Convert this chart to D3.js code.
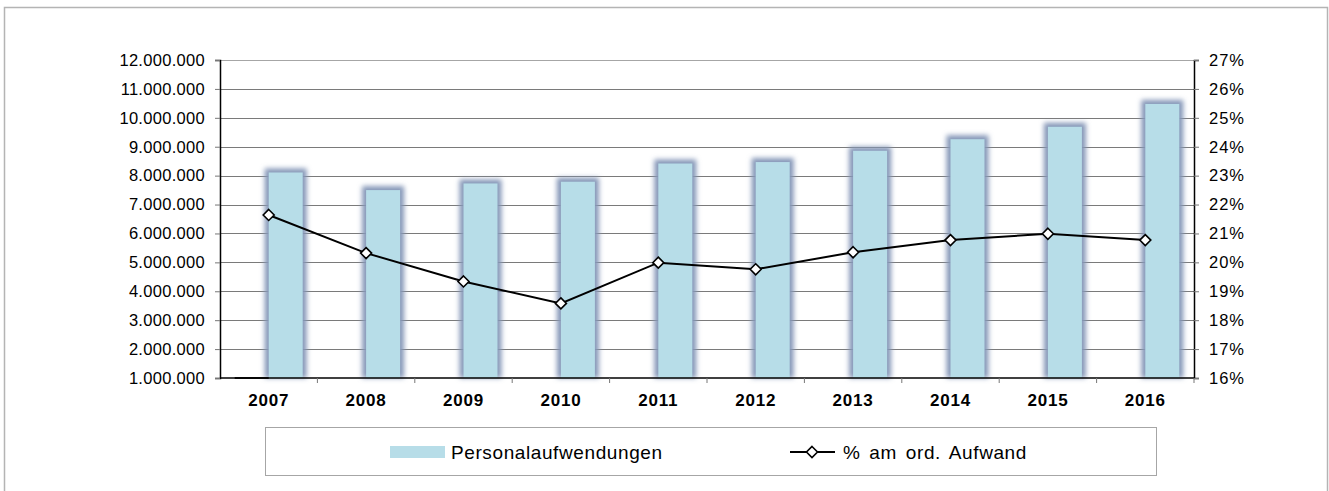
<!DOCTYPE html>
<html>
<head>
<meta charset="utf-8">
<script src="https://cdn.jsdelivr.net/npm/d3@7"></script>
<style>
    body { margin: 0; background: #fff; }
    svg { display: block; font-family: "Liberation Sans", Arial, sans-serif; }
</style>
</head>
<body>
<svg id="chart" width="1329" height="491"></svg>
<script>
// Data
const years = ["2007", "2008", "2009", "2010", "2011", "2012", "2013", "2014", "2015", "2016"];
const personalaufwendungen = [8110000, 7500000, 7730000, 7790000, 8420000, 8470000, 8860000, 9260000, 9690000, 10480000];
const anteilAufwand = [21.64, 20.32, 19.34, 18.58, 19.99, 19.76, 20.35, 20.77, 20.99, 20.77];
// first cluster slot, only 2007 shows up as a flat bar on the baseline
const hiddenSeries = [0, null, null, null, null, null, null, null, null, null];
const leftTicks = [1000000, 2000000, 3000000, 4000000, 5000000, 6000000, 7000000, 8000000, 9000000, 10000000, 11000000, 12000000];
const rightTicks = [16, 17, 18, 19, 20, 21, 22, 23, 24, 25, 26, 27];
const seriesNames = ["Personalaufwendungen", "% am ord. Aufwand"];

function renderChart(svg) {
    svg.selectAll("*").remove();

    const plot = { left: 220, right: 1194, top: 60, bottom: 378 };
    const barColor = "#b7dde8";

    // Outer chart frame
    svg.append("rect")
        .attr("x", 4.5)
        .attr("y", 7.5)
        .attr("width", 1323)
        .attr("height", 500)
        .attr("fill", "none")
        .attr("stroke", "#b4b4b4")
        .attr("stroke-width", 1.5);

    // Glow filter for bars
    const defs = svg.append("defs");
    defs.append("filter")
        .attr("id", "glow")
        .attr("x", "-50%").attr("y", "-10%")
        .attr("width", "200%").attr("height", "120%")
        .append("feGaussianBlur")
        .attr("stdDeviation", 2.4);

    // Scales
    const x = d3.scaleBand()
        .domain(years)
        .range([plot.left, plot.right]);

    const xSub = d3.scaleBand()
        .domain(["hidden", "pers"])
        .range([-34, 34]);

    const yLeft = d3.scaleLinear()
        .domain([1000000, 12000000])
        .range([plot.bottom, plot.top]);

    const yRight = d3.scaleLinear()
        .domain([16, 27])
        .range([plot.bottom, plot.top]);

    const center = d => x(d) + x.bandwidth() / 2;

    // Gridlines
    svg.append("g")
        .selectAll("line")
        .data(leftTicks.slice(1))
        .enter()
        .append("line")
        .attr("x1", plot.left)
        .attr("x2", plot.right)
        .attr("y1", d => Math.round(yLeft(d)) + 0.5)
        .attr("y2", d => Math.round(yLeft(d)) + 0.5)
        .attr("stroke", d => d === 12000000 ? "#a6a6a6" : "#7a7a7a")
        .attr("stroke-width", 1);

    // Bars: blurred halo first, then the fill
    const bars = svg.append("g")
        .selectAll("g")
        .data(years.map((yr, i) => ({ year: yr, value: personalaufwendungen[i] })))
        .enter()
        .append("g");

    bars.append("rect")
        .attr("x", d => center(d.year) + xSub("pers") - 4)
        .attr("y", d => yLeft(d.value) - 4)
        .attr("width", xSub.bandwidth() + 8)
        .attr("height", d => plot.bottom - yLeft(d.value) + 4)
        .attr("fill", "#8597b8")
        .attr("filter", "url(#glow)");

    bars.append("rect")
        .attr("x", d => center(d.year) + xSub("pers"))
        .attr("y", d => yLeft(d.value))
        .attr("width", xSub.bandwidth())
        .attr("height", d => plot.bottom - yLeft(d.value))
        .attr("fill", barColor);

    // Hidden series sits flat on the baseline
    svg.append("g")
        .selectAll("rect")
        .data(years.map((yr, i) => ({ year: yr, value: hiddenSeries[i] })).filter(d => d.value !== null))
        .enter()
        .append("rect")
        .attr("x", d => center(d.year) + xSub("hidden"))
        .attr("y", plot.bottom - 1)
        .attr("width", xSub.bandwidth())
        .attr("height", 2)
        .attr("fill", "#1a1a1a");

    // Left axis
    const leftAxis = svg.append("g")
        .attr("transform", `translate(${plot.left},0)`)
        .call(d3.axisLeft(yLeft)
            .tickValues(leftTicks)
            .tickSize(5)
            .tickPadding(10)
            .tickFormat(d => d3.format(",.0f")(d).replace(/,/g, ".")));
    leftAxis.select(".domain").attr("stroke", "#000").attr("stroke-width", 1.5);
    leftAxis.selectAll(".tick line").attr("stroke", "#777");
    leftAxis.selectAll("text")
        .attr("fill", "#000")
        .style("font-size", "16.5px")
        .style("letter-spacing", "0.3px");

    // Right axis
    const rightAxis = svg.append("g")
        .attr("transform", `translate(${plot.right},0)`)
        .call(d3.axisRight(yRight)
            .tickValues(rightTicks)
            .tickSize(5)
            .tickPadding(10)
            .tickFormat(d => d + "%"));
    rightAxis.select(".domain").attr("stroke", "#000").attr("stroke-width", 1.5);
    rightAxis.selectAll(".tick line").attr("stroke", "#777");
    rightAxis.selectAll("text")
        .attr("fill", "#000")
        .style("font-size", "16.5px")
        .style("letter-spacing", "1px");

    // Bottom axis: boundary ticks
    svg.append("line")
        .attr("x1", plot.left)
        .attr("x2", plot.right)
        .attr("y1", plot.bottom)
        .attr("y2", plot.bottom)
        .attr("stroke", "#000")
        .attr("stroke-width", 1.5);

    svg.append("g")
        .selectAll("line")
        .data(years.slice(1).concat(["end"]))
        .enter()
        .append("line")
        .attr("x1", d => d === "end" ? plot.right : x(d))
        .attr("x2", d => d === "end" ? plot.right : x(d))
        .attr("y1", plot.bottom)
        .attr("y2", plot.bottom + 5)
        .attr("stroke", "#777");

    svg.append("g")
        .selectAll("text")
        .data(years)
        .enter()
        .append("text")
        .attr("x", d => center(d))
        .attr("y", 406)
        .attr("text-anchor", "middle")
        .style("font-size", "17px")
        .style("font-weight", "bold")
        .style("letter-spacing", "0.8px")
        .text(d => d);

    // Line on the right axis
    const lineData = years.map((yr, i) => ({ year: yr, value: anteilAufwand[i] }));
    const line = d3.line()
        .x(d => center(d.year))
        .y(d => yRight(d.value));

    svg.append("path")
        .datum(lineData)
        .attr("fill", "none")
        .attr("stroke", "#000")
        .attr("stroke-width", 2)
        .attr("d", line);

    const diamond = "M0,-5.5L5.5,0L0,5.5L-5.5,0Z";
    svg.append("g")
        .selectAll("path")
        .data(lineData)
        .enter()
        .append("path")
        .attr("transform", d => `translate(${center(d.year)},${yRight(d.value)})`)
        .attr("d", diamond)
        .attr("fill", "#fff")
        .attr("stroke", "#000")
        .attr("stroke-width", 1.6);

    // Legend
    const legend = svg.append("g");
    legend.append("rect")
        .attr("x", 265.5)
        .attr("y", 427.5)
        .attr("width", 891)
        .attr("height", 48)
        .attr("fill", "#fff")
        .attr("stroke", "#a6a6a6");

    legend.append("rect")
        .attr("x", 390)
        .attr("y", 446)
        .attr("width", 55)
        .attr("height", 12)
        .attr("fill", barColor);

    legend.append("text")
        .attr("x", 451)
        .attr("y", 452)
        .attr("dy", "0.35em")
        .style("font-size", "19px")
        .style("letter-spacing", "0.6px")
        .text(seriesNames[0]);

    legend.append("line")
        .attr("x1", 790)
        .attr("x2", 835)
        .attr("y1", 452)
        .attr("y2", 452)
        .attr("stroke", "#000")
        .attr("stroke-width", 2);

    legend.append("path")
        .attr("transform", "translate(812,452)")
        .attr("d", diamond)
        .attr("fill", "#fff")
        .attr("stroke", "#000")
        .attr("stroke-width", 1.6);

    legend.append("text")
        .attr("x", 843)
        .attr("y", 452)
        .attr("dy", "0.35em")
        .style("font-size", "19px")
        .style("letter-spacing", "0.6px")
        .style("word-spacing", "3px")
        .text(seriesNames[1]);
}

renderChart(d3.select("#chart"));
</script>
</body>
</html>
